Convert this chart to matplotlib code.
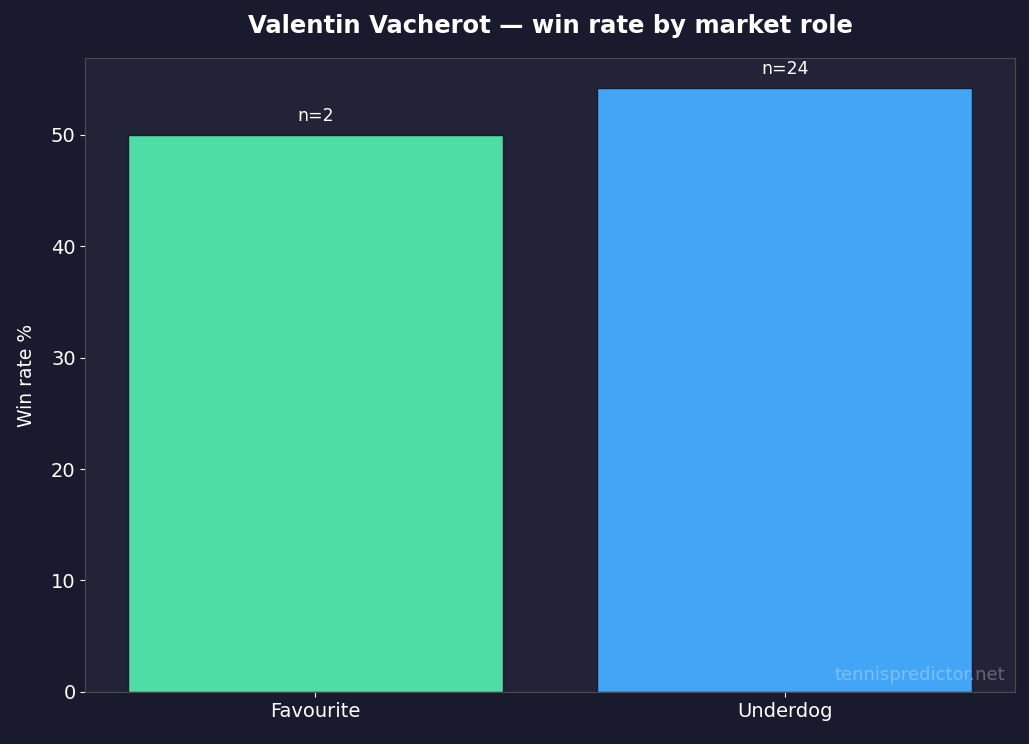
import numpy as np
import matplotlib
matplotlib.use("Agg")
from matplotlib import pyplot as plt

plt.rcParams["font.family"] = ["DejaVu Sans"]

roles = ["Favourite", "Underdog"]
win_rate = [50.0, 54.17]
n_matches = [2, 24]
bar_colors = ["#4fdda6", "#42a5f5"]

fig, ax = plt.subplots(figsize=(10.29, 7.44), dpi=100)
fig.patch.set_facecolor("#1a1a2e")
ax.set_facecolor("#232338")

x = np.arange(len(roles))
bars = ax.bar(x, win_rate, width=0.8, color=bar_colors, edgecolor="#1a1a2e", linewidth=1)

for xi, v, n in zip(x, win_rate, n_matches):
    ax.text(xi, v + 0.9, f"n={n}", ha="center", va="bottom", color="white", fontsize=12.5)

ax.set_xticks(x)
ax.set_xticklabels(roles)
ax.set_ylim(0, max(win_rate) * 1.05)
ax.set_ylabel("Win rate %", color="white", fontsize=13.5, labelpad=11)
ax.set_title("Valentin Vacherot \u2014 win rate by market role", color="white",
             fontsize=17.5, fontweight="bold", pad=18)
ax.tick_params(colors="white", labelsize=14)
for s in ax.spines.values():
    s.set_color("#4a4a50")

ax.text(0.99, 0.012, "tennispredictor.net", transform=ax.transAxes, ha="right", va="bottom",
        color="white", alpha=0.3, fontsize=13)

plt.subplots_adjust(left=0.083, right=0.986, top=0.922, bottom=0.07)
plt.savefig("out.png", facecolor=fig.get_facecolor())
